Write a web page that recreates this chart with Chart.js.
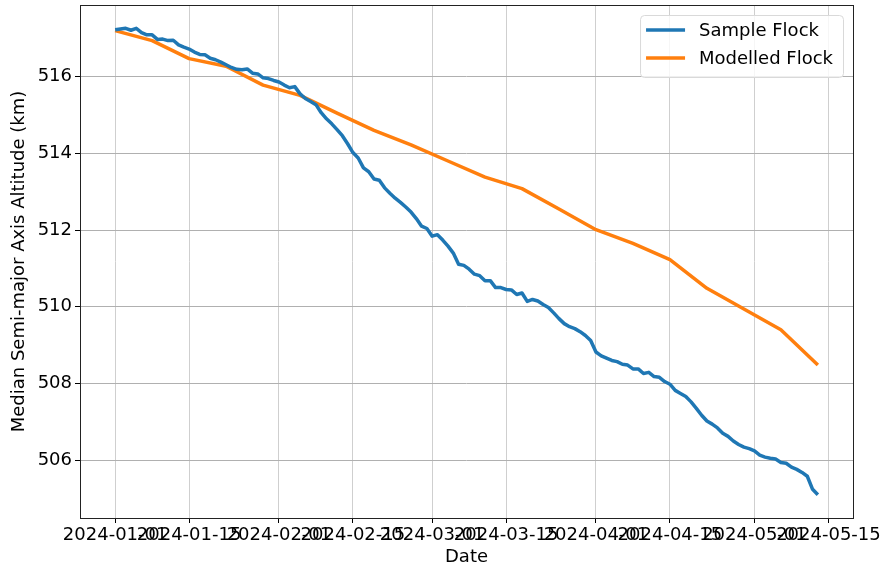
<!DOCTYPE html>
<html>
<head>
<meta charset="utf-8">
<script src="https://cdn.jsdelivr.net/npm/chart.js@4.4.1/dist/chart.umd.min.js"></script>
<style>
  html, body { margin: 0; padding: 0; background: #fff; }
  #wrap { width: 883px; height: 569px; }
</style>
</head>
<body>
<div id="wrap"><canvas id="chart" width="883" height="569"></canvas></div>
<script>
// Median semi-major axis altitude, sample flock vs modelled flock.

const START_DATE = '2024-01-01';
const X_TICK_DATES = [
  '2024-01-01', '2024-01-15', '2024-02-01', '2024-02-15', '2024-03-01',
  '2024-03-15', '2024-04-01', '2024-04-15', '2024-05-01', '2024-05-15',
];
const Y_TICKS = [506, 508, 510, 512, 514, 516];

// One value per day starting at START_DATE (km).
const SAMPLE_ALT = [
  517.22, 517.24, 517.26, 517.21, 517.26, 517.15, 517.09, 517.09, 516.97, 516.98,
  516.94, 516.95, 516.83, 516.77, 516.72, 516.64, 516.58, 516.57, 516.48, 516.44,
  516.38, 516.31, 516.24, 516.19, 516.18, 516.20, 516.09, 516.07, 515.97, 515.95,
  515.90, 515.86, 515.78, 515.71, 515.74, 515.55, 515.43, 515.35, 515.27, 515.06,
  514.90, 514.77, 514.62, 514.46, 514.25, 514.02, 513.88, 513.62, 513.52, 513.33,
  513.30, 513.10, 512.96, 512.83, 512.72, 512.60, 512.47, 512.30, 512.10, 512.04,
  511.84, 511.88, 511.74, 511.58, 511.40, 511.11, 511.08, 510.98, 510.85, 510.81,
  510.68, 510.68, 510.50, 510.50, 510.45, 510.44, 510.32, 510.36, 510.14, 510.19,
  510.15, 510.06, 509.98, 509.84, 509.69, 509.56, 509.48, 509.43, 509.35, 509.25,
  509.12, 508.82, 508.72, 508.66, 508.60, 508.57, 508.50, 508.48, 508.38, 508.38,
  508.26, 508.29, 508.18, 508.16, 508.05, 507.98, 507.82, 507.74, 507.66, 507.52,
  507.35, 507.17, 507.02, 506.94, 506.84, 506.70, 506.62, 506.50, 506.41, 506.34,
  506.30, 506.24, 506.13, 506.08, 506.05, 506.03, 505.94, 505.92, 505.82, 505.76,
  505.68, 505.58, 505.24, 505.10,
];

// Modelled flock, weekly (days since START_DATE).
const MODEL_DAYS = [0, 7, 14, 21, 28, 35, 42, 49, 56, 63, 70, 77, 84, 91, 98, 105, 112, 119, 126, 133];
const MODEL_ALT = [
  517.20, 516.94, 516.47, 516.27, 515.78, 515.51, 515.05, 514.60, 514.22, 513.80,
  513.38, 513.08, 512.55, 512.01, 511.65, 511.23, 510.48, 509.94, 509.40, 508.48,
];

const BLUE = '#1f77b4';
const ORANGE = '#ff7f0e';
const DAY_MS = 86400000;
const t0 = Date.parse(START_DATE);

const dayOf = (s) => Math.round((Date.parse(s) - t0) / DAY_MS);
const dateOf = (d) => new Date(t0 + d * DAY_MS).toISOString().slice(0, 10);

const samplePoints = SAMPLE_ALT.map((v, i) => ({ x: i, y: v }));
const modelPoints = MODEL_DAYS.map((d, i) => ({ x: d, y: MODEL_ALT[i] }));

// matplotlib-style 5% margins around the data
const allDays = samplePoints.map(p => p.x).concat(MODEL_DAYS);
const allAlt = SAMPLE_ALT.concat(MODEL_ALT);
const xMin = Math.min(...allDays), xMax = Math.max(...allDays);
const yMin = Math.min(...allAlt), yMax = Math.max(...allAlt);
const xPad = (xMax - xMin) * 0.05, yPad = (yMax - yMin) * 0.05;

Chart.defaults.font.family = "'DejaVu Sans', sans-serif";
Chart.defaults.font.size = 18;
Chart.defaults.color = '#000';

// Scales reserve room for half-labels at their ends; drop it so layout padding rules.
function noEdgePadding(scale) {
  scale.paddingTop = 0;
  scale.paddingBottom = 0;
  scale.paddingLeft = 0;
  scale.paddingRight = 0;
}

// Draws the full axes frame and an inset legend (upper right).
const frameAndLegend = {
  id: 'frameAndLegend',
  afterDraw(chart) {
    const { ctx, chartArea: a } = chart;
    ctx.save();
    ctx.strokeStyle = '#222';
    ctx.lineWidth = 1;
    ctx.strokeRect(Math.round(a.left) + 0.5, Math.round(a.top) + 0.5,
      Math.round(a.right - a.left), Math.round(a.bottom - a.top));

    const sets = chart.data.datasets;
    ctx.font = "18px 'DejaVu Sans', sans-serif";
    const textW = Math.max(...sets.map(s => ctx.measureText(s.label).width));
    const w = 59 + textW + 10;
    const h = 62;
    const x = a.right - 10 - w;
    const y = a.top + 10;
    ctx.beginPath();
    ctx.roundRect(x + 0.5, y + 0.5, w, h, 4);
    ctx.fillStyle = 'rgba(255,255,255,0.8)';
    ctx.fill();
    ctx.strokeStyle = '#d9d9d9';
    ctx.stroke();

    sets.forEach((s, i) => {
      const cy = y + 15 + i * 28;
      ctx.beginPath();
      ctx.moveTo(x + 6, cy);
      ctx.lineTo(x + 45, cy);
      ctx.strokeStyle = s.borderColor;
      ctx.lineWidth = 3.5;
      ctx.stroke();
      ctx.fillStyle = '#000';
      ctx.textBaseline = 'middle';
      ctx.fillText(s.label, x + 59, cy + 1);
    });
    ctx.restore();
  },
};

new Chart(document.getElementById('chart'), {
  type: 'line',
  data: {
    datasets: [
      {
        label: 'Sample Flock',
        data: samplePoints,
        borderColor: BLUE,
        backgroundColor: BLUE,
        borderWidth: 3.5,
        pointRadius: 0,
        tension: 0,
        borderJoinStyle: 'round',
      },
      {
        label: 'Modelled Flock',
        data: modelPoints,
        borderColor: ORANGE,
        backgroundColor: ORANGE,
        borderWidth: 3.5,
        pointRadius: 0,
        tension: 0,
        borderJoinStyle: 'round',
      },
    ],
  },
  options: {
    responsive: false,
    animation: false,
    devicePixelRatio: 1,
    layout: { padding: { left: 0, right: 30, top: 5, bottom: 0 } },
    plugins: { legend: { display: false }, tooltip: { enabled: false } },
    scales: {
      x: {
        type: 'linear',
        min: xMin - xPad,
        max: xMax + xPad,
        afterBuildTicks: (scale) => { scale.ticks = X_TICK_DATES.map(s => ({ value: dayOf(s) })); },
        afterFit: (scale) => { scale.height = 51; noEdgePadding(scale); },
        ticks: {
          autoSkip: false,
          minRotation: 0,
          maxRotation: 0,
          padding: 2,
          color: '#000',
          callback: (v) => dateOf(v),
        },
        grid: { color: '#cfcfcf', lineWidth: 1, tickLength: 5, tickColor: '#000', drawTicks: true },
        border: { display: false },
        title: { display: true, text: 'Date', color: '#000', padding: { top: 0, bottom: 1 } },
      },
      y: {
        type: 'linear',
        min: yMin - yPad,
        max: yMax + yPad,
        afterBuildTicks: (scale) => { scale.ticks = Y_TICKS.map(v => ({ value: v })); },
        afterFit: (scale) => { scale.width = 80; noEdgePadding(scale); },
        ticks: { padding: 3, color: '#000', callback: (v) => String(v) },
        grid: { color: '#b0b0b0', lineWidth: 1, tickLength: 5, tickColor: '#000', drawTicks: true },
        border: { display: false },
        title: {
          display: true,
          text: 'Median Semi-major Axis Altitude (km)',
          color: '#000',
          padding: { top: 9, bottom: 0 },
        },
      },
    },
  },
  plugins: [frameAndLegend],
});
</script>
</body>
</html>
